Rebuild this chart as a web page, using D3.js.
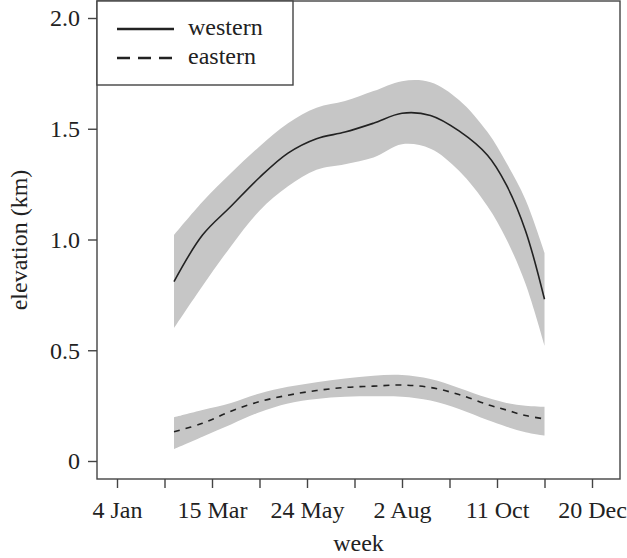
<!DOCTYPE html>
<html>
<head>
<meta charset="utf-8">
<script src="https://cdn.jsdelivr.net/npm/d3@7"></script>
<style>
  body { margin: 0; background: #fff; }
  svg text { font-family: "Liberation Serif", "Times New Roman", serif; fill: #222; }
</style>
</head>
<body>
<svg width="627" height="558"></svg>
<script>
// weeks of the year (week 1 = 4 Jan)
const weeks = [7, 10, 13, 16, 19, 22, 25, 28, 31, 34, 37, 40, 42, 44, 46];

const westMean  = [0.81, 1.02, 1.15, 1.28, 1.39, 1.455, 1.485, 1.525, 1.57, 1.56, 1.49, 1.38, 1.245, 1.04, 0.73];
const westUpper = [1.02, 1.17, 1.30, 1.42, 1.525, 1.595, 1.625, 1.67, 1.715, 1.71, 1.63, 1.485, 1.345, 1.18, 0.94];
const westLower = [0.60, 0.79, 0.97, 1.13, 1.24, 1.315, 1.34, 1.37, 1.43, 1.41, 1.31, 1.15, 1.00, 0.80, 0.52];

const eastMean  = [0.132, 0.17, 0.225, 0.268, 0.297, 0.318, 0.332, 0.338, 0.343, 0.332, 0.30, 0.255, 0.23, 0.205, 0.19];
const eastUpper = [0.197, 0.23, 0.262, 0.305, 0.335, 0.356, 0.372, 0.385, 0.388, 0.37, 0.33, 0.285, 0.262, 0.25, 0.245];
const eastLower = [0.054, 0.11, 0.165, 0.22, 0.26, 0.28, 0.29, 0.292, 0.29, 0.273, 0.235, 0.185, 0.155, 0.13, 0.115];

const xTicks = [1, 6, 11, 16, 21, 26, 31, 36, 41, 46, 51];
const xLabels = {1: "4 Jan", 11: "15 Mar", 21: "24 May", 31: "2 Aug", 41: "11 Oct", 51: "20 Dec"};
const yTicks = [0, 0.5, 1.0, 1.5, 2.0];
const yLabels = ["0", "0.5", "1.0", "1.5", "2.0"];

const svg = d3.select("svg");
const box = {left: 97, right: 620, top: 1, bottom: 479};
const axisColor = "#444";

const x = d3.scaleLinear().domain([1, 51]).range([117, 592]);
const y = d3.scaleLinear().domain([0, 2]).range([461, 18]);

function series(mean, upper, lower) {
    return weeks.map((w, i) => ({w: w, m: mean[i], hi: upper[i], lo: lower[i]}));
}

const groups = [
    {data: series(westMean, westUpper, westLower), dash: null},
    {data: series(eastMean, eastUpper, eastLower), dash: "6,6"}
];

const area = d3.area()
    .x(d => x(d.w))
    .y0(d => y(d.lo))
    .y1(d => y(d.hi))
    .curve(d3.curveCatmullRom);

const line = d3.line()
    .x(d => x(d.w))
    .y(d => y(d.m))
    .curve(d3.curveCatmullRom);

svg.append("g")
    .selectAll("path")
    .data(groups)
    .enter().append("path")
    .attr("d", d => area(d.data))
    .attr("fill", "#c6c6c6");

svg.append("g")
    .selectAll("path")
    .data(groups)
    .enter().append("path")
    .attr("d", d => line(d.data))
    .attr("fill", "none")
    .attr("stroke", "#222")
    .attr("stroke-width", 1.6)
    .attr("stroke-dasharray", d => d.dash);

// plot box
svg.append("rect")
    .attr("x", box.left)
    .attr("y", box.top)
    .attr("width", box.right - box.left)
    .attr("height", box.bottom - box.top)
    .attr("fill", "none")
    .attr("stroke", axisColor)
    .attr("stroke-width", 1.4);

// x axis
const xAxis = svg.append("g")
    .attr("transform", `translate(0,${box.bottom})`)
    .call(d3.axisBottom(x)
        .tickValues(xTicks)
        .tickSize(9)
        .tickFormat(d => xLabels[d] || ""));
xAxis.select(".domain").remove();
xAxis.selectAll("line").attr("stroke", axisColor).attr("stroke-width", 1.4);
xAxis.selectAll("text")
    .attr("y", 39)
    .attr("dy", null)
    .style("font-size", "24px")
    .attr("fill", "#222");

// y axis
const yAxis = svg.append("g")
    .attr("transform", `translate(${box.left},0)`)
    .call(d3.axisLeft(y)
        .tickValues(yTicks)
        .tickSize(9)
        .tickPadding(8)
        .tickFormat((d, i) => yLabels[i]));
yAxis.select(".domain").remove();
yAxis.selectAll("line").attr("stroke", axisColor).attr("stroke-width", 1.4);
yAxis.selectAll("text")
    .attr("dy", "0.33em")
    .style("font-size", "24px")
    .attr("fill", "#222");

// axis titles
svg.append("text")
    .attr("x", (box.left + box.right) / 2)
    .attr("y", 551)
    .attr("text-anchor", "middle")
    .style("font-size", "24px")
    .text("week");

svg.append("text")
    .attr("transform", "rotate(-90)")
    .attr("x", -240)
    .attr("y", 27)
    .attr("text-anchor", "middle")
    .style("font-size", "24px")
    .text("elevation (km)");

// legend
const legend = svg.append("g");
legend.append("rect")
    .attr("x", box.left)
    .attr("y", box.top)
    .attr("width", 196)
    .attr("height", 84)
    .attr("fill", "#fff")
    .attr("stroke", axisColor)
    .attr("stroke-width", 1.4);

const legendItems = [
    {label: "western", dash: null, ly: 29},
    {label: "eastern", dash: "13,8", ly: 58}
];

legend.selectAll("line")
    .data(legendItems)
    .enter().append("line")
    .attr("x1", 117)
    .attr("x2", 174)
    .attr("y1", d => d.ly)
    .attr("y2", d => d.ly)
    .attr("stroke", "#222")
    .attr("stroke-width", 2.6)
    .attr("stroke-dasharray", d => d.dash);

legend.selectAll("text")
    .data(legendItems)
    .enter().append("text")
    .attr("x", 188)
    .attr("y", d => d.ly + 6)
    .style("font-size", "24px")
    .text(d => d.label);
</script>
</body>
</html>
